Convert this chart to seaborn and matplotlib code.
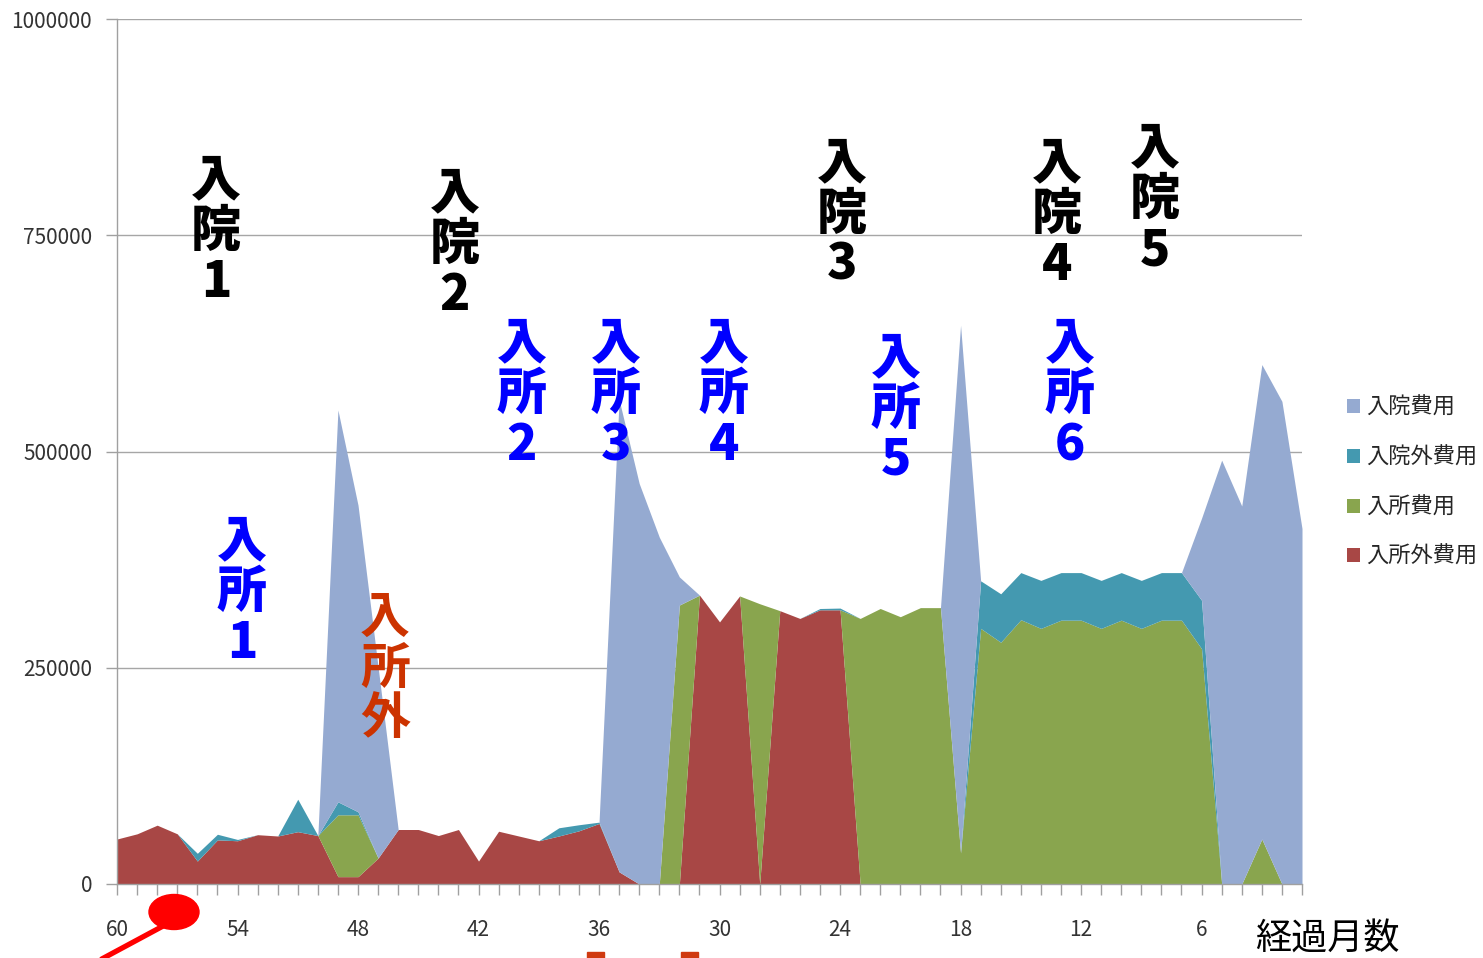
import numpy as np
import pandas as pd
import matplotlib.pyplot as plt
import seaborn as sns
from matplotlib.patches import Patch, Ellipse, Rectangle
from matplotlib.lines import Line2D

# months elapsed, counted down from 60 to 1
months = list(range(60, 0, -1))

# 入所外費用 (bottom layer)
nyusho_gai = [52000, 58000, 68000, 58000, 26500, 51000, 50000, 57000, 55500, 60500,
              56000, 8500, 8500, 30000, 63000, 63000, 56000, 63000, 26500, 61000,
              55500, 50000, 55500, 61500, 70000, 14000, 0, 0, 0, 334000,
              303000, 333000, 0, 316000, 307000, 317000, 317000, 0, 0, 0,
              0, 0, 0, 0, 0, 0, 0, 0, 0, 0,
              0, 0, 0, 0, 0, 0, 0, 0, 0, 0]

# 入所費用
nyusho = [0, 0, 0, 0, 0, 0, 0, 0, 0, 0,
          0, 71500, 71500, 0, 0, 0, 0, 0, 0, 0,
          0, 0, 0, 0, 0, 0, 0, 0, 322500, 0,
          0, 0, 324000, 0, 0, 0, 0, 307000, 318500, 309000,
          319500, 319500, 36000, 295500, 279500, 305500, 295500, 305000, 305000, 295500,
          305000, 295500, 305000, 305000, 272000, 0, 0, 52000, 0, 0]

# 入院外費用
nyuin_gai = [0, 0, 0, 0, 9000, 6500, 1500, 0, 0, 37500,
             0, 15000, 3500, 0, 0, 0, 0, 0, 0, 0,
             0, 0, 9500, 7000, 1500, 0, 0, 0, 0, 0,
             0, 0, 0, 0, 0, 1500, 2000, 0, 0, 0,
             0, 0, 0, 55000, 56000, 54500, 55500, 55000, 55000, 55500,
             55000, 55500, 55000, 55000, 56000, 0, 0, 0, 0, 0]

# 入院費用 (top layer)
nyuin = [0, 0, 0, 0, 0, 0, 0, 0, 0, 0,
         0, 453000, 354500, 221000, 0, 0, 0, 0, 0, 0,
         0, 0, 0, 0, 0, 546000, 463000, 401000, 32500, 0,
         0, 0, 0, 0, 0, 0, 0, 0, 0, 0,
         0, 0, 610000, 0, 0, 0, 0, 0, 0, 0,
         0, 0, 0, 0, 95000, 490000, 437000, 548500, 558000, 411000]

series_names = ['入所外費用', '入所費用', '入院外費用', '入院費用']
series_colors = ['#A84745', '#89A54E', '#4499B0', '#95AAD1']

yticks = [0, 250000, 500000, 750000, 1000000]

# vertical annotations: text, centre x px, first char centre y px, colour, weight
notes = [
    ('入院1', 216, 180, 'black', 'heavy'),
    ('入院2', 455, 193, 'black', 'heavy'),
    ('入院3', 842, 163, 'black', 'heavy'),
    ('入院4', 1057, 163, 'black', 'heavy'),
    ('入院5', 1155, 148, 'black', 'heavy'),
    ('入所1', 242, 541, '#0000FF', 'heavy'),
    ('入所2', 522, 343, '#0000FF', 'heavy'),
    ('入所3', 616, 343, '#0000FF', 'heavy'),
    ('入所4', 724, 343, '#0000FF', 'heavy'),
    ('入所5', 896, 358, '#0000FF', 'heavy'),
    ('入所6', 1070, 343, '#0000FF', 'heavy'),
    ('入所外', 385, 618, '#CC3300', 'bold'),
]

df = pd.DataFrame({
    '入所外費用': nyusho_gai,
    '入所費用': nyusho,
    '入院外費用': nyuin_gai,
    '入院費用': nyuin,
}, index=months)

sns.set_theme(style="white")
plt.rcParams['font.family'] = ['Noto Sans CJK JP', 'DejaVu Sans']

W, H = 1483, 958
fig = plt.figure(figsize=(W / 100, H / 100), dpi=100)
ax = fig.add_axes([117 / W, 1 - 884 / H, (1302 - 117) / W, (884 - 19) / H])

pos = np.arange(len(months))
palette = sns.color_palette(series_colors)
ax.stackplot(pos, df[series_names].T.values, colors=palette, linewidth=0)

ax.set_xlim(0, len(months) - 1)
ax.set_ylim(0, 1000000)
ax.set_yticks(yticks)
ax.set_yticklabels([str(v) for v in yticks])
ax.set_xticks(pos)
ax.set_xticklabels([str(m) if (60 - m) % 6 == 0 else '' for m in months])
ax.tick_params(axis='x', direction='out', length=8, width=1, color='#A0A0A0',
               pad=17, labelsize=15, labelcolor='#333333', bottom=True)
ax.tick_params(axis='y', direction='out', length=8, width=1, color='#A0A0A0',
               pad=10, labelsize=15, labelcolor='#333333', left=True)
ax.yaxis.grid(True, color='#A6A6A6', linewidth=1)
ax.set_axisbelow(True)
sns.despine(ax=ax)
for s in ['left', 'bottom']:
    ax.spines[s].set_color('#A0A0A0')
    ax.spines[s].set_linewidth(1)

# legend (reverse of stacking order, as in the original)
handles = [Patch(facecolor=c, edgecolor='none') for c in series_colors][::-1]
fig.legend(handles, series_names[::-1], loc='upper left',
           bbox_to_anchor=(1336 / W, 1 - 385 / H), frameon=False,
           fontsize=16, handlelength=0.6, handleheight=0.6,
           handletextpad=0.25, labelspacing=1.2, borderpad=0)

# stacked vertical labels
pitch = 51
for text, cx, cy, col, wt in notes:
    for k, ch in enumerate(text):
        fig.text(cx / W, 1 - (cy + k * pitch) / H, ch, ha='center', va='center',
                 fontsize=36, fontweight=wt, color=col)

fig.text(1255 / W, 1 - 940 / H, '経過月数', ha='left', va='center',
         fontsize=26, color='black')

# red pin marker below the axis and small red marks
fig.add_artist(Line2D([85 / W, 165 / W], [1 - 968 / H, 1 - 925 / H],
                      transform=fig.transFigure, color='#FF0000', linewidth=3.8))
fig.add_artist(Ellipse((174 / W, 1 - 912 / H), 50 / W, 35 / H,
                       transform=fig.transFigure, color='#FF0000'))
for x0 in [587, 681]:
    fig.add_artist(Rectangle((x0 / W, 0), 17 / W, 6 / H,
                             transform=fig.transFigure, color='#D03A10'))

fig.savefig('out.png', dpi=100)
